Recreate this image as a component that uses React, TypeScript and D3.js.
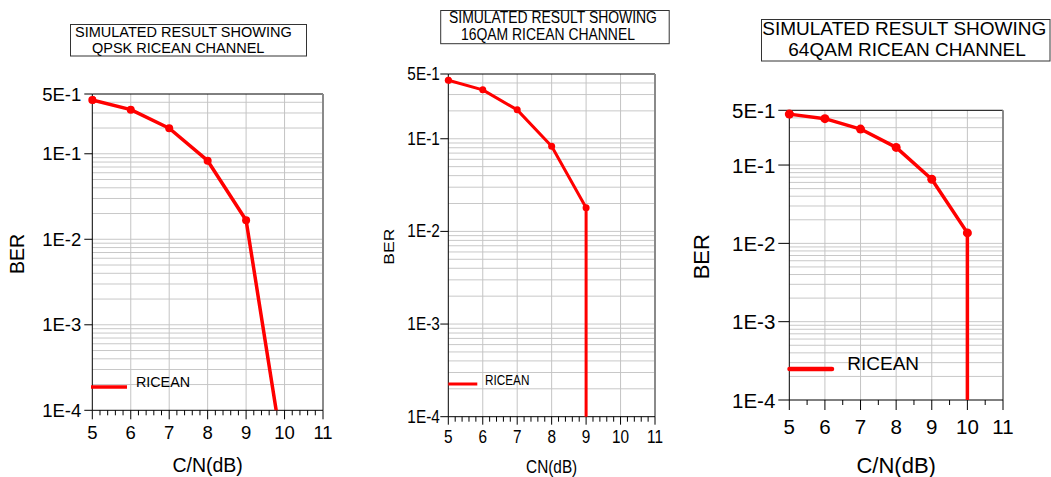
import React from "react";
import * as d3 from "d3";

// ---- data ----
const cnDb = [5, 6, 7, 8, 9, 10];
const cnDb64 = [5, 6, 7, 8, 9, 10, 11];
const qpskBer = [0.426, 0.328, 0.199, 0.083, 0.0167, 2.4e-5];
const qam16Ber = [0.428, 0.337, 0.205, 0.083, 0.018, 0];
const qam64Ber = [0.447, 0.391, 0.288, 0.168, 0.0658, 0.0136, 0];
const xTicks = [5, 6, 7, 8, 9, 10, 11];
const yTickValues = [5e-1, 1e-1, 1e-2, 1e-3, 1e-4];
const yTickLabels = ["5E-1", "1E-1", "1E-2", "1E-3", "1E-4"];
const titleLine1 = "SIMULATED RESULT SHOWING";
const titles2 = ["QPSK RICEAN CHANNEL", "16QAM RICEAN CHANNEL", "64QAM RICEAN CHANNEL"];
const xTitles = ["C/N(dB)", "CN(dB)", "C/N(dB)"];
const legendLabel = "RICEAN";

const FONT = "'Liberation Sans', Arial, Helvetica, sans-serif";
const RED = "#ff0000";

type Cfg = {
  xs: number[]; ys: number[]; title2: string; xTitle: string;
  left: number; right: number; top: number; bottom: number;
  sx: number; tickFont: number; yLabGap: number; yTickLen: number; xLabDy: number;
  minor: number; majLen: number; minLen: number;
  box: [number, number, number, number]; t1: [number, number]; t2: [number, number]; titleFont: number; titleSx: number;
  ber: [number, number]; berFont: number; xtY: number; xtFont: number;
  leg: [number, number, number]; legW: number; legText: [number, number]; legFont: number; legSx: number;
  lw: number; r: number; id: string;
};

const cfgs: Cfg[] = [
  {
    xs: cnDb, ys: qpskBer, title2: titles2[0], xTitle: xTitles[0],
    left: 92.3, right: 323, top: 94, bottom: 410.3,
    sx: 1, tickFont: 18.5, yLabGap: 11, yTickLen: 8, xLabDy: 22,
    minor: 4, majLen: 9, minLen: 5,
    box: [70.5, 24.5, 236, 31.5], t1: [75, 31.7], t2: [92, 47.7], titleFont: 14.5, titleSx: 1,
    ber: [17, 254], berFont: 19.5, xtY: 465, xtFont: 19.5,
    leg: [91, 127, 387], legW: 3.5, legText: [136, 382], legFont: 14.3, legSx: 1,
    lw: 3.5, r: 4, id: "p1",
  },
  {
    xs: cnDb, ys: qam16Ber, title2: titles2[1], xTitle: xTitles[1],
    left: 448.3, right: 655, top: 74, bottom: 416.7,
    sx: 0.84, tickFont: 18.3, yLabGap: 8.5, yTickLen: 8, xLabDy: 20,
    minor: 4, majLen: 8, minLen: 5,
    box: [440.7, 10.5, 228.5, 33.2], t1: [449, 17.3], t2: [461, 34], titleFont: 16, titleSx: 0.87,
    ber: [388.3, 246.7], berFont: 17.5, xtY: 466.7, xtFont: 18.3,
    leg: [448.3, 477.3, 384], legW: 3, legText: [485, 380], legFont: 14.5, legSx: 0.81,
    lw: 3, r: 3.5, id: "p2",
  },
  {
    xs: cnDb64, ys: qam64Ber, title2: titles2[2], xTitle: xTitles[2],
    left: 789.3, right: 1003, top: 110.3, bottom: 400,
    sx: 1, tickFont: 20.5, yLabGap: 14, yTickLen: 11, xLabDy: 26.7,
    minor: 1, majLen: 10, minLen: 5,
    box: [761.5, 19.5, 288.5, 41.5], t1: [762.3, 28.7], t2: [788.3, 49.3], titleFont: 19, titleSx: 1,
    ber: [701.7, 256.7], berFont: 22, xtY: 465, xtFont: 22,
    leg: [789.5, 832, 369], legW: 4.5, legText: [847.3, 363.3], legFont: 19, legSx: 1,
    lw: 3.5, r: 4.5, id: "p3",
  },
];

function Panel({ c }: { c: Cfg }) {
  const x = d3.scaleLinear().domain([xTicks[0], xTicks[xTicks.length - 1]]).range([c.left, c.right]);
  const y = d3.scaleLog().domain([1e-4, 5e-1]).range([c.bottom, c.top]);

  // minor log grid
  const minorVals: number[] = [];
  for (let k = -4; k <= -1; k++) {
    for (let m = 1; m <= 9; m++) {
      const v = m * Math.pow(10, k);
      if (v > 1e-4 && v < 5e-1) minorVals.push(v);
    }
  }
  const minorX: number[] = [];
  for (let i = 0; i < xTicks.length - 1; i++) {
    for (let j = 1; j <= c.minor; j++) minorX.push(xTicks[i] + j / (c.minor + 1));
  }

  const pts: [number, number][] = [];
  c.xs.forEach((xv, i) => {
    const v = c.ys[i];
    if (v > 0) pts.push([x(xv), y(v)]);
    else if (pts.length) pts.push([pts[pts.length - 1][0], c.bottom + 10]);
  });
  const line = d3.line<[number, number]>().x((d) => d[0]).y((d) => d[1]);
  const markers = c.xs.map((xv, i) => ({ xv, v: c.ys[i] })).filter((d) => d.v > 0);

  const txt = (px: number, py: number, s: string, size: number, anchor: string, sx: number, key?: string) => (
    <text key={key} transform={`translate(${px},${py}) scale(${sx},1)`} fontSize={size} textAnchor={anchor as any}
      dominantBaseline="central" fontFamily={FONT} fill="#000">{s}</text>
  );

  return (
    <g>
      <defs>
        <clipPath id={c.id}>
          <rect x={c.left} y={c.top} width={c.right - c.left} height={c.bottom - c.top} />
        </clipPath>
      </defs>
      {/* title box */}
      <rect x={c.box[0]} y={c.box[1]} width={c.box[2]} height={c.box[3]} fill="#fff" stroke="#333" strokeWidth={1} />
      {txt(c.t1[0], c.t1[1], titleLine1, c.titleFont, "start", c.titleSx)}
      {txt(c.t2[0], c.t2[1], c.title2, c.titleFont, "start", c.titleSx)}
      {/* grid */}
      {minorVals.map((v, i) => (
        <line key={"h" + i} x1={c.left} x2={c.right} y1={y(v)} y2={y(v)} stroke="#c8c8c8" strokeWidth={1} />
      ))}
      {xTicks.slice(1, -1).map((t) => (
        <line key={"v" + t} x1={x(t)} x2={x(t)} y1={c.top} y2={c.bottom} stroke="#c4c4c4" strokeWidth={1} />
      ))}
      {/* frame */}
      <line x1={c.left} x2={c.right} y1={c.top} y2={c.top} stroke="#000" strokeWidth={1} />
      <line x1={c.right} x2={c.right} y1={c.top} y2={c.bottom} stroke="#8a8a8a" strokeWidth={2} />
      <line x1={c.left} x2={c.left} y1={c.top} y2={c.bottom} stroke="#000" strokeWidth={1} />
      <line x1={c.left} x2={c.right} y1={c.bottom} y2={c.bottom} stroke="#000" strokeWidth={1} />
      {/* y ticks */}
      {yTickValues.map((v, i) => (
        <g key={"y" + i}>
          <line x1={c.left - c.yTickLen} x2={c.left} y1={y(v)} y2={y(v)} stroke="#000" strokeWidth={1} />
          {txt(c.left - c.yLabGap, y(v), yTickLabels[i], c.tickFont, "end", c.sx)}
        </g>
      ))}
      {/* x ticks */}
      {xTicks.map((t) => (
        <g key={"x" + t}>
          <line x1={x(t)} x2={x(t)} y1={c.bottom} y2={c.bottom + c.majLen} stroke="#000" strokeWidth={1} />
          {txt(x(t), c.bottom + c.xLabDy, String(t), c.tickFont, "middle", c.sx)}
        </g>
      ))}
      {minorX.map((t, i) => (
        <line key={"m" + i} x1={x(t)} x2={x(t)} y1={c.bottom} y2={c.bottom + c.minLen} stroke="#000" strokeWidth={1} />
      ))}
      {/* axis titles */}
      <text transform={`translate(${c.ber[0]},${c.ber[1]}) scale(${c.sx},1) rotate(-90)`} fontSize={c.berFont}
        textAnchor="middle" dominantBaseline="central" fontFamily={FONT}>BER</text>
      {txt((c.left + c.right) / 2, c.xtY, c.xTitle, c.xtFont, "middle", c.sx)}
      {/* legend */}
      <line x1={c.leg[0]} x2={c.leg[1]} y1={c.leg[2]} y2={c.leg[2]} stroke={RED} strokeWidth={c.legW}
        strokeLinecap={c.id === "p3" ? "round" : "butt"} />
      {txt(c.legText[0], c.legText[1], legendLabel, c.legFont, "start", c.legSx)}
      {/* series */}
      <g clipPath={`url(#${c.id})`}>
        <path d={line(pts) || ""} fill="none" stroke={RED} strokeWidth={c.lw} strokeLinejoin="round" />
        {markers.map((d, i) => (
          <circle key={i} cx={x(d.xv)} cy={y(d.v)} r={c.r} fill={RED} />
        ))}
      </g>
      {/* markers at edges not clipped horizontally */}
      {markers.filter((d) => x(d.xv) <= c.left + 0.5).map((d, i) => (
        <circle key={"e" + i} cx={x(d.xv)} cy={y(d.v)} r={c.r} fill={RED} />
      ))}
    </g>
  );
}

export default function App() {
  return (
    <div style={{ position: "fixed", left: 0, top: 0 }}>
      <svg width={1051} height={477} style={{ display: "block", background: "#fff" }}>
        <rect width={1051} height={477} fill="#fff" />
        {cfgs.map((c) => (
          <Panel key={c.id} c={c} />
        ))}
      </svg>
    </div>
  );
}
